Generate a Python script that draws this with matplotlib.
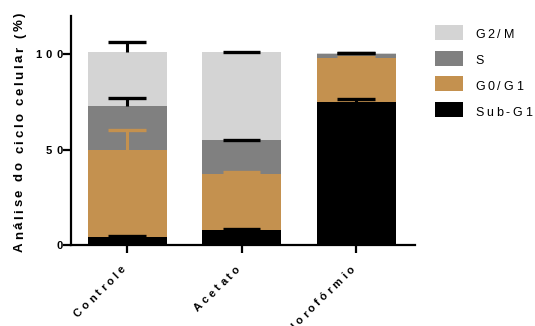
import matplotlib
matplotlib.use("Agg")
import matplotlib.pyplot as plt
import numpy as np
from matplotlib.patches import Rectangle
from matplotlib.font_manager import FontProperties

# cell cycle phases, stacked bottom to top
grupos = ["Controle", "Acetato", "Clorofórmio"]
fases = ["Sub-G1", "G0/G1", "S", "G2/M"]
sub_g1 = [4.4, 7.9, 75.1]
g0_g1 = [45.2, 29.5, 23.0]
fase_s = [23.2, 17.5, 2.1]
g2_m = [28.1, 46.0, 0.3]
# upward error (SD) at the top of each segment
err_sub_g1 = [0.5, 0.4, 1.2]
err_g0_g1 = [10.6, 0.6, 0.3]
err_s = [4.0, 0.3, 0.2]
err_g2_m = [5.3, 0.3, 0.2]
yticks = [0, 50, 100]
ylabel = "Análise do ciclo celular (%)"

cores = ["#000000", "#c4914f", "#808080", "#d4d4d4"]
cores_erro = ["#000000", "#c4914f", "#000000", "#000000"]

series = [sub_g1, g0_g1, fase_s, g2_m]
erros = [err_sub_g1, err_g0_g1, err_s, err_g2_m]

W, H = 535, 326
fig = plt.figure(figsize=(W / 100, H / 100), dpi=100)
ax = fig.add_axes([71 / W, 81 / H, 344 / W, 229 / H])
renderer = fig.canvas.get_renderer()

fonte_negrito = FontProperties(family="Liberation Sans", weight="bold", size=8)
fonte_eixo = FontProperties(family="Liberation Sans", weight="bold", size=9.5)
fonte_legenda = FontProperties(family="Liberation Sans", size=9)


def largura(s, fp):
    t = fig.text(0, 0, s, fontproperties=fp)
    w = t.get_window_extent(renderer).width
    t.remove()
    return w


def texto_espacado(s, x, y, fp, ang=0, extra=3.0, alinhar="left"):
    # letter-spaced text; x, y are the baseline point in pixels from bottom-left
    total = largura(s, fp) + extra * (len(s) - 1)
    d = np.array([np.cos(np.deg2rad(ang)), np.sin(np.deg2rad(ang))])
    off0 = {"left": 0, "center": -total / 2, "right": -total}[alinhar]
    for i, ch in enumerate(s):
        if ch == " ":
            continue
        pos = largura(s[:i + 1], fp) - largura(ch, fp) + extra * i + off0
        px, py = x + pos * d[0], y + pos * d[1]
        fig.text(px / W, py / H, ch, fontproperties=fp, rotation=ang,
                 rotation_mode="anchor", ha="left", va="baseline")


x = np.arange(len(grupos))
largura_barra = 0.69
base = np.zeros(len(grupos))
for vals, cor in zip(series, cores):
    ax.bar(x, vals, largura_barra, bottom=base, color=cor, edgecolor="none", zorder=2)
    base = base + np.array(vals)

# error bars drawn upward only, with a cap
meia_tampa = 0.165
base = np.zeros(len(grupos))
for vals, err, cor in zip(series, erros, cores_erro):
    topo = base + np.array(vals)
    ax.vlines(x, topo, topo + np.array(err), color=cor, lw=2.2, zorder=3)
    ax.hlines(topo + np.array(err), x - meia_tampa, x + meia_tampa, color=cor, lw=2.4, zorder=3)
    base = topo

ax.set_xlim(-0.49, 2.515)
ax.set_ylim(0, 120)
ax.set_yticks(yticks)
ax.set_xticks(x)
ax.set_xticklabels([])
ax.set_yticklabels([])

ax.spines["top"].set_visible(False)
ax.spines["right"].set_visible(False)
for s in ["left", "bottom"]:
    ax.spines[s].set_linewidth(1.6)
ax.tick_params(width=1.6, length=6)

# tick labels
for v in yticks:
    _, py = ax.transData.transform((0, v))
    texto_espacado(str(v), 63, py - 4, fonte_negrito, extra=4.5, alinhar="right")
for xi, g in zip(x, grupos):
    px, _ = ax.transData.transform((xi, 0))
    texto_espacado(g, px - 1, H - 270, fonte_negrito, ang=45, extra=3.2, alinhar="right")

texto_espacado(ylabel, 23, H - 132, fonte_eixo, ang=90, extra=2.5, alinhar="center")

# legend, top to bottom
for k, (fase, cor) in enumerate(zip(fases[::-1], cores[::-1])):
    topo = 25 + k * 25.7
    fig.patches.append(Rectangle((435 / W, (H - topo - 15) / H), 28 / W, 15 / H,
                                 transform=fig.transFigure, facecolor=cor, edgecolor="none"))
    texto_espacado(fase, 475, H - (topo + 13.5), fonte_legenda, extra=2.8)

fig.savefig("out.png", dpi=100)
